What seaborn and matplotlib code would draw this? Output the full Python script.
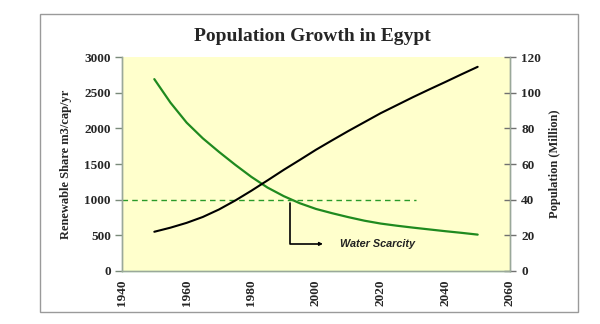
import matplotlib
matplotlib.use("Agg")
import matplotlib.pyplot as plt
import seaborn as sns
import pandas as pd
from matplotlib.patches import Rectangle

# Renewable water share (m3 per capita per year) and population (million)
years = [1950, 1955, 1960, 1965, 1970, 1975, 1980, 1985, 1990, 1995, 2000,
         2005, 2010, 2015, 2020, 2025, 2030, 2035, 2040, 2045, 2050]
water_share = [2690, 2360, 2080, 1860, 1670, 1490, 1320, 1170, 1050, 950, 870,
               810, 755, 705, 665, 635, 608, 583, 558, 535, 510]
population = [22, 24.3, 27, 30.3, 34.5, 39.5, 45.0, 50.8, 56.7, 62.3, 68,
              73.3, 78.5, 83.5, 88.5, 93, 97.5, 101.8, 106, 110.3, 114.5]
scarcity_level = 1000
scarcity_span = [1940, 2031]
x_ticks = [1940, 1960, 1980, 2000, 2020, 2040, 2060]
left_ticks = [0, 500, 1000, 1500, 2000, 2500, 3000]
right_ticks = [0, 20, 40, 60, 80, 100, 120]

df = pd.DataFrame({"year": years, "share": water_share, "pop": population})

sns.set_theme(style="white")
plt.rcParams["font.family"] = ["Liberation Serif", "DejaVu Serif"]

fig = plt.figure(figsize=(6, 3.24), dpi=100)
fig.patch.set_facecolor("white")

# outer chart frame
fig.patches.append(Rectangle((0.067, 0.037), 0.896, 0.920, transform=fig.transFigure,
                             fill=False, edgecolor="#9a9a9a", linewidth=1.0))

ax = fig.add_axes([0.2033, 0.1636, 0.6467, 0.6604])
ax.set_facecolor("#FFFFCC")
ax2 = ax.twinx()

sns.lineplot(data=df, x="year", y="share", ax=ax, color="#1f8a1f", linewidth=1.6)
sns.lineplot(data=df, x="year", y="pop", ax=ax2, color="black", linewidth=1.5)

ax.plot(scarcity_span, [scarcity_level, scarcity_level], color="#2a9a2a",
        linestyle=(0, (4, 3)), linewidth=1.0, clip_on=False)

# pointer from the 1000 crossing to the label
ax.plot([1992, 1992, 2001], [960, 380, 380], color="black", linewidth=1.2)
ax.annotate("", xy=(2003, 380), xytext=(2000, 380),
            arrowprops=dict(arrowstyle="-|>", color="black", lw=1.0,
                            mutation_scale=5))
ax.text(2007.5, 380, "Water Scarcity", fontsize=7.8, style="italic", fontweight="bold",
        family=["Liberation Sans", "DejaVu Sans"], va="center", ha="left",
        color="#222222")

ax.set_xlim(1940, 2060)
ax.set_ylim(0, 3000)
ax2.set_ylim(0, 120)
ax.set_xticks(x_ticks)
ax.set_yticks(left_ticks)
ax2.set_yticks(right_ticks)
ax.set_xticklabels([str(v) for v in x_ticks], rotation=90, fontweight="bold", fontsize=9.5)
ax.set_yticklabels([str(v) for v in left_ticks], fontweight="bold", fontsize=9.5)
ax2.set_yticklabels([str(v) for v in right_ticks], fontweight="bold", fontsize=9.5)

ax.set_xlabel("")
ax.set_ylabel("Renewable Share m3/cap/yr", fontweight="bold", fontsize=9, labelpad=9)
ax2.set_ylabel("Population (Million)", fontweight="bold", fontsize=9, labelpad=6)

for a in (ax, ax2):
    a.grid(False)
    a.spines["top"].set_visible(False)
    for s in ("left", "right", "bottom"):
        a.spines[s].set_color("#9aa89a")
        a.spines[s].set_linewidth(1.0)
ax.spines["bottom"].set_color("#8fce8f")
ax.tick_params(axis="x", direction="inout", length=6, width=1, color="#7fb87f", pad=3)
ax.tick_params(axis="y", direction="out", length=5, width=1, color="#7a8a7a", pad=3)
ax2.tick_params(axis="y", direction="inout", length=8, width=1, color="#707070", pad=4)

fig.text(0.52, 0.888, "Population Growth in Egypt", ha="center", va="center",
         fontsize=14, fontweight="bold")

fig.savefig("out.png", dpi=100, facecolor="white")
